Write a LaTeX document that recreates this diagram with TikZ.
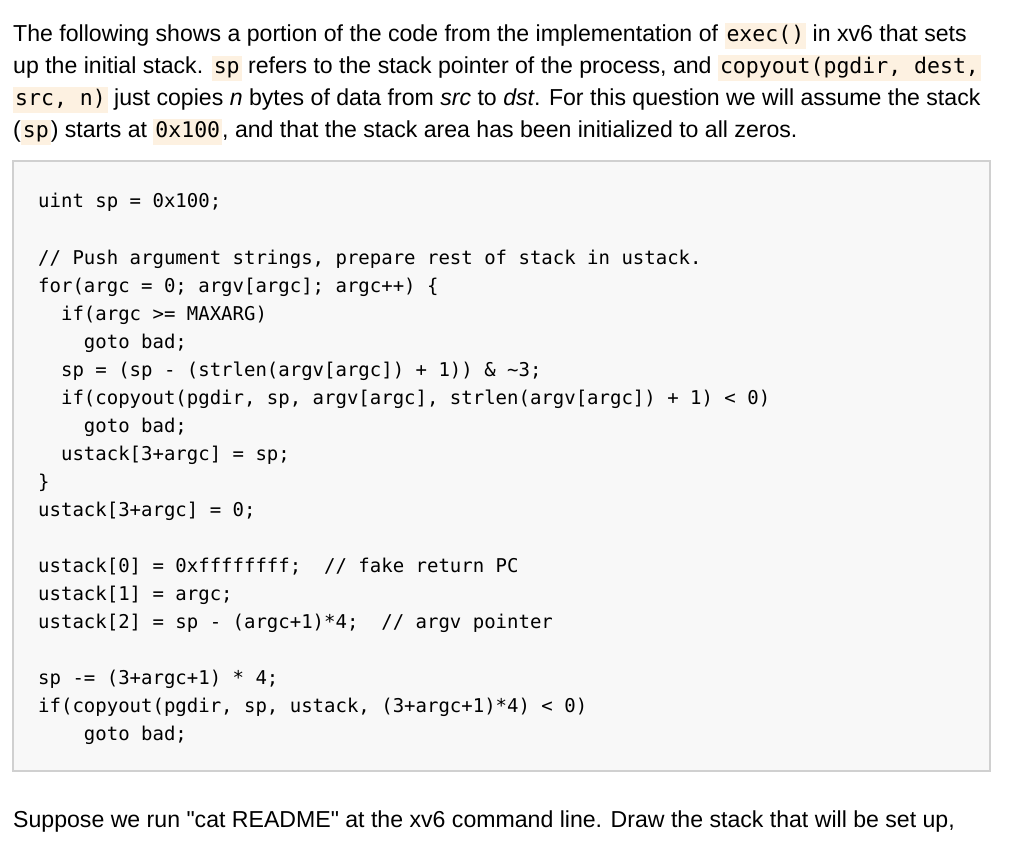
\documentclass[tikz,border=0pt]{standalone}
\usepackage{fontspec}
\setmainfont{Liberation Sans}
\newfontfamily\nq{Liberation Sans}
\newfontfamily\cmono{DejaVu Sans Mono}
\definecolor{hlbg}{HTML}{FDF1E1}
\definecolor{boxbg}{HTML}{F8F8F8}
\definecolor{boxbd}{HTML}{D0D0D0}
\newcommand{\hlc}[1]{{\setlength{\fboxsep}{2pt}\colorbox{hlbg}{\fontsize{21.5}{21}\cmono\strut #1}}}
\tikzset{para/.style={anchor=base west,inner sep=0pt,font=\fontsize{23.1}{23}\selectfont},
codeln/.style={anchor=base west,inner sep=0pt,font=\fontsize{19}{20}\cmono}}
\begin{document}
\begin{tikzpicture}[x=1pt,y=-1pt]
\useasboundingbox (0,0) rectangle (1024,844);
\node[para] (p1) at (13,41) {The following shows a portion of the code from the implementation of \hlc{exec()} in xv6 that sets};
\node[para] (p2) at (13,73) {up the initial stack. \hlc{sp} refers to the stack pointer of the process, and \hlc{copyout(pgdir, dest,}};
\node[para] (p3) at (13,105) {\hlc{src, n)} just copies \textit{n} bytes of data from \textit{src} to \textit{dst}. For this question we will assume the stack};
\node[para] (p4) at (13,137) {(\hlc{sp}) starts at \hlc{0x100}, and that the stack area has been initialized to all zeros.};
\draw[draw=boxbd,fill=boxbg,line width=1.5] (13,161) rectangle (990,771);
\foreach \y/\t in {
207/{uint sp = 0x100;},
264/{// Push argument strings, prepare rest of stack in ustack.},
292/{for(argc = 0; argv[argc]; argc++) \{},
320/{\ \ if(argc >= MAXARG)},
348/{\ \ \ \ goto bad;},
376/{\ \ sp = (sp - (strlen(argv[argc]) + 1)) \& \textasciitilde 3;},
404/{\ \ if(copyout(pgdir, sp, argv[argc], strlen(argv[argc]) + 1) < 0)},
432/{\ \ \ \ goto bad;},
460/{\ \ ustack[3+argc] = sp;},
488/{\}},
516/{ustack[3+argc] = 0;},
572/{ustack[0] = 0xffffffff; \ // fake return PC},
600/{ustack[1] = argc;},
628/{ustack[2] = sp - (argc+1)*4; \ // argv pointer},
684/{sp -= (3+argc+1) * 4;},
712/{if(copyout(pgdir, sp, ustack, (3+argc+1)*4) < 0)},
740/{\ \ \ \ goto bad;}}
{\node[codeln] at (38,\y) {\t};}
\node[para] (p5) at (13,827) {Suppose we run {\nq"}cat README{\nq"} at the xv6 command line. Draw the stack that will be set up,};
\end{tikzpicture}
\end{document}
